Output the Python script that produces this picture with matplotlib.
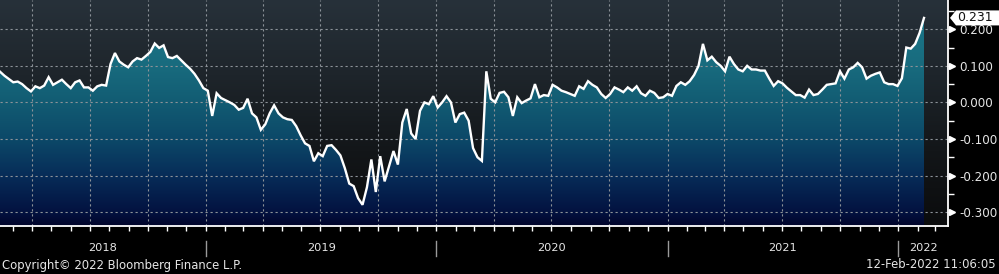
import matplotlib
matplotlib.use('Agg')
import matplotlib.pyplot as plt
import matplotlib.dates as mdates
import matplotlib.transforms as mtransforms
from matplotlib.colors import LinearSegmentedColormap
from matplotlib.patches import PathPatch, Polygon
from matplotlib.ticker import MultipleLocator, FixedLocator, NullFormatter
import numpy as np
import pandas as pd

# weekly closes
vals_2018 = [0.084, 0.073, 0.064, 0.055, 0.057, 0.050, 0.039, 0.030, 0.044, 0.039,
             0.046, 0.069, 0.048, 0.055, 0.062, 0.050, 0.039, 0.055, 0.060, 0.041,
             0.041, 0.032, 0.044, 0.048, 0.046, 0.105, 0.135, 0.112, 0.103, 0.096,
             0.112, 0.121, 0.117, 0.127, 0.138, 0.161, 0.149, 0.156, 0.124, 0.121,
             0.127, 0.115, 0.103, 0.092, 0.078, 0.060, 0.039, 0.032, -0.037, 0.025,
             0.012, 0.006, 0.000, -0.007, -0.020]
vals_2019 = [-0.015, 0.010, -0.030, -0.041, -0.075, -0.060, -0.030, -0.008, -0.030, -0.041,
             -0.046, -0.048, -0.065, -0.090, -0.112, -0.119, -0.161, -0.139, -0.147, -0.119,
             -0.117, -0.130, -0.145, -0.180, -0.222, -0.229, -0.262, -0.280, -0.232, -0.156,
             -0.245, -0.147, -0.216, -0.175, -0.133, -0.170, -0.055, -0.018, -0.085, -0.100,
             -0.023, 0.000, -0.005, 0.017, -0.014, 0.000, 0.017, 0.000, -0.055, -0.032,
             -0.028, -0.050]
vals_2020 = [-0.125, -0.150, -0.160, 0.085, 0.010, 0.000, 0.026, 0.029, 0.014, -0.037,
             0.014, -0.002, 0.005, 0.011, 0.050, 0.014, 0.020, 0.018, 0.048, 0.041,
             0.032, 0.028, 0.023, 0.018, 0.044, 0.037, 0.058, 0.048, 0.041, 0.023,
             0.012, 0.023, 0.041, 0.035, 0.028, 0.041, 0.032, 0.044, 0.025, 0.018,
             0.032, 0.026, 0.012, 0.014, 0.023, 0.018, 0.045, 0.055, 0.048, 0.058,
             0.075, 0.100]
vals_2021 = [0.160, 0.115, 0.125, 0.110, 0.100, 0.085, 0.125, 0.105, 0.090, 0.085,
             0.100, 0.090, 0.090, 0.087, 0.087, 0.065, 0.045, 0.058, 0.052, 0.040,
             0.030, 0.020, 0.020, 0.013, 0.035, 0.020, 0.023, 0.035, 0.048, 0.050,
             0.052, 0.085, 0.065, 0.090, 0.096, 0.108, 0.096, 0.065, 0.073, 0.078,
             0.082, 0.055, 0.050, 0.050, 0.045, 0.066, 0.150, 0.147, 0.160, 0.190,
             0.231]
start_date = '2018-02-09'
years = [2018, 2019, 2020, 2021, 2022]
yticks = [-0.3, -0.2, -0.1, 0.0, 0.1, 0.2]

vals = np.array(vals_2018 + vals_2019 + vals_2020 + vals_2021)
dates = pd.date_range(start_date, periods=len(vals), freq='7D')
x = mdates.date2num(dates)

W, H = 999, 274
x0 = mdates.date2num(pd.Timestamp('2018-02-09'))
x1 = mdates.date2num(pd.Timestamp('2022-03-21'))
ylo, yhi = -0.338, 0.280

fig = plt.figure(figsize=(W / 100, H / 100), dpi=100, facecolor='black')
ax = fig.add_axes([0.0, (H - 226) / H, 948 / W, 226 / H])
ax.set_xlim(x0, x1)
ax.set_ylim(ylo, yhi)

# plot background gradient
bg = LinearSegmentedColormap.from_list('bg', ['#0b0c0d', '#131619', '#1e252b', '#27313a'])
grad = np.linspace(0, 1, 256).reshape(-1, 1)
ax.imshow(grad, cmap=bg, origin='lower', extent=[x0, x1, ylo, yhi], aspect='auto', zorder=0)

# area fill gradient, clipped to the curve
fillc = LinearSegmentedColormap.from_list('fill', [
    (0.00, '#01052b'), (0.06, '#031240'), (0.22, '#072c58'), (0.38, '#0c4868'),
    (0.55, '#125c73'), (0.71, '#186b7e'), (1.00, '#1c7a8c')])
poly = ax.fill_between(x, vals, ylo, facecolor='none', linewidth=0)
clip = PathPatch(poly.get_paths()[0], transform=ax.transData, facecolor='none', edgecolor='none')
ax.add_patch(clip)
im = ax.imshow(grad, cmap=fillc, origin='lower', extent=[x0, x1, ylo, yhi], aspect='auto', zorder=1)
im.set_clip_path(clip)

ax.plot(x, vals, color='white', linewidth=1.7, zorder=3, solid_joinstyle='miter')

# grid
ax.xaxis.set_major_locator(mdates.MonthLocator(bymonth=[1, 4, 7, 10]))
ax.xaxis.set_minor_locator(mdates.MonthLocator())
ax.xaxis.set_major_formatter(NullFormatter())
ax.yaxis.set_major_locator(FixedLocator(yticks))
ax.yaxis.set_minor_locator(MultipleLocator(0.05))
ax.grid(True, which='major', color='#8c9298', linestyle=(0, (2, 2.5)), linewidth=0.8)
for gl in ax.get_xgridlines() + ax.get_ygridlines():
    gl.set_zorder(2)

for s in ['top', 'left']:
    ax.spines[s].set_visible(False)
for s in ['bottom', 'right']:
    ax.spines[s].set_color('white')
    ax.spines[s].set_linewidth(1.3)
    ax.spines[s].set_zorder(4)

ax.yaxis.tick_right()
ax.tick_params(axis='x', which='both', direction='out', length=3.5, width=1, colors='white')
ax.tick_params(axis='y', which='both', direction='out', length=4, width=1, colors='white',
               labelcolor='#e6e6e6', labelsize=8.6, pad=4)
ax.set_yticklabels(['%.3f' % v for v in yticks])

# triangle markers on major y ticks
tr = mtransforms.blended_transform_factory(ax.transAxes, ax.transData)
ax.plot([1.004] * len(yticks), yticks, linestyle='none', marker='>', markersize=4.5,
        color='white', transform=tr, clip_on=False, zorder=5)

# last value tag
last = vals[-1]
ypx = ax.transData.transform((x1, last))[1]
tag = [(950, ypx), (956, ypx + 7.5), (W, ypx + 7.5), (W, ypx - 7.5), (956, ypx - 7.5)]
fig.patches.append(Polygon([(px / W, py / H) for px, py in tag], closed=True,
                           facecolor='white', edgecolor='none', transform=fig.transFigure,
                           figure=fig, zorder=6))
fig.text(957 / W, ypx / H, '%.3f' % last, ha='left', va='center', fontsize=9,
         color='#111111', zorder=7)

# year labels and separators under the axis
trf = mtransforms.blended_transform_factory(ax.transData, fig.transFigure)
bounds = [x0] + [mdates.date2num(pd.Timestamp('%d-01-01' % y)) for y in years[1:]] + [x1]
for i, y in enumerate(years):
    ax.text((bounds[i] + bounds[i + 1]) / 2, (H - 248) / H, str(y), transform=trf,
            ha='center', va='center', fontsize=8.2, color='#e6e6e6')
for b in bounds[1:-1]:
    ax.plot([b, b], [(H - 256) / H, (H - 241) / H], color='#9a9a9a', linewidth=1,
            transform=trf, clip_on=False)

fig.text(2 / W, (H - 265) / H, 'Copyright\u00a9 2022 Bloomberg Finance L.P.',
         ha='left', va='center', fontsize=8.4, color='#e6e6e6')
fig.text(996 / W, (H - 265) / H, '12-Feb-2022 11:06:05',
         ha='right', va='center', fontsize=8.4, color='#e6e6e6')

fig.savefig('out.png', dpi=100, facecolor='black')
